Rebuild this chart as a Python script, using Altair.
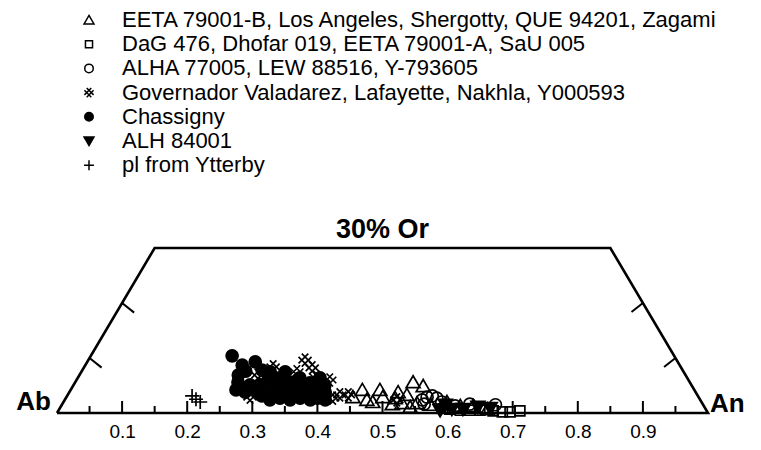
import altair as alt
import pandas as pd

# ---------------- data ----------------
groups = [
    "EETA 79001-B, Los Angeles, Shergotty, QUE 94201, Zagami",
    "DaG 476, Dhofar 019, EETA 79001-A, SaU 005",
    "ALHA 77005, LEW 88516, Y-793605",
    "Governador Valadarez, Lafayette, Nakhla, Y000593",
    "Chassigny",
    "ALH 84001",
    "pl from Ytterby",
]

# An and Or mole fractions for each group
tri_an = [0.440, 0.448, 0.464, 0.475, 0.475, 0.486, 0.507, 0.505, 0.521, 0.519,
          0.538, 0.544, 0.521, 0.566, 0.589, 0.613, 0.633, 0.658, 0.506, 0.537]
tri_or = [0.029, 0.042, 0.024, 0.020, 0.042, 0.029, 0.016, 0.038, 0.018, 0.056,
          0.049, 0.018, 0.033, 0.015, 0.020, 0.013, 0.013, 0.007, 0.027, 0.011]

sq_an = [0.600, 0.617, 0.632, 0.647, 0.668, 0.683, 0.695, 0.709]
sq_or = [0.007, 0.005, 0.005, 0.005, 0.004, 0.002, 0.002, 0.004]

circ_an = [0.549, 0.554, 0.561, 0.570, 0.581, 0.556, 0.605, 0.626, 0.666]
circ_or = [0.024, 0.029, 0.031, 0.027, 0.020, 0.016, 0.013, 0.016, 0.015]

hatch_an = [0.290, 0.333, 0.331, 0.366, 0.323, 0.274, 0.282, 0.392, 0.382, 0.418,
            0.431, 0.289, 0.375, 0.389, 0.510, 0.274, 0.351, 0.410]
hatch_or = [0.084, 0.096, 0.075, 0.065, 0.064, 0.045, 0.029, 0.033, 0.051, 0.033,
            0.033, 0.053, 0.027, 0.060, 0.024, 0.069, 0.082, 0.027]

chas_an = [0.217, 0.241, 0.258, 0.252, 0.276, 0.250, 0.254, 0.271, 0.294, 0.312,
           0.331, 0.343, 0.363, 0.375, 0.299, 0.329, 0.360, 0.387, 0.330, 0.361,
           0.393, 0.290, 0.310, 0.341, 0.372, 0.286, 0.322, 0.355, 0.386, 0.270,
           0.290, 0.308, 0.347, 0.315, 0.346, 0.377, 0.400, 0.313, 0.244]
chas_or = [0.104, 0.087, 0.093, 0.076, 0.078, 0.056, 0.042, 0.051, 0.060, 0.045,
           0.038, 0.045, 0.036, 0.042, 0.031, 0.027, 0.027, 0.027, 0.056, 0.055,
           0.038, 0.075, 0.064, 0.064, 0.064, 0.051, 0.051, 0.051, 0.051, 0.038,
           0.038, 0.038, 0.038, 0.024, 0.024, 0.024, 0.024, 0.075, 0.069]

alh_an = [0.586, 0.589, 0.603, 0.620, 0.641, 0.661]
alh_or = [0.005, 0.015, 0.007, 0.007, 0.011, 0.009]

ytt_an = [0.192, 0.201, 0.210]
ytt_or = [0.031, 0.025, 0.020]

# axis / frame values
tick_labels = [0.1, 0.2, 0.3, 0.4, 0.5, 0.6, 0.7, 0.8, 0.9]
minor_ticks = [0.05, 0.15, 0.25, 0.35, 0.45, 0.55, 0.65, 0.75, 0.85, 0.95]
side_tick_or = [0.1, 0.2]
frame_an = [0.0, 0.0, 0.7, 1.0, 0.0]
frame_or = [0.0, 0.3, 0.3, 0.0, 0.0]
corner_names = ["Ab", "An", "30% Or"]
corner_an = [0.0, 1.0, 0.35]
corner_or = [0.0, 0.0, 0.3]

# ---------------- tables ----------------
series = [
    (groups[4], chas_an, chas_or),
    (groups[3], hatch_an, hatch_or),
    (groups[0], tri_an, tri_or),
    (groups[2], circ_an, circ_or),
    (groups[1], sq_an, sq_or),
    (groups[5], alh_an, alh_or),
    (groups[6], ytt_an, ytt_or),
]
rows = []
k = 0
for g, an, orr in series:
    for a, o in zip(an, orr):
        rows.append({"group": g, "An": a, "Or": o, "k": k})
        k += 1
pts = pd.DataFrame(rows)

frame = pd.DataFrame({"An": frame_an, "Or": frame_or, "i": range(len(frame_an))})
major = pd.DataFrame({"t": tick_labels})
minor = pd.DataFrame({"t": minor_ticks})
side = pd.DataFrame({"Or": side_tick_or})
corners = pd.DataFrame({"name": corner_names, "An": corner_an, "Or": corner_or})

FONT = "Liberation Sans"
tri_up = "M0,-1.3L1.4,1.1L-1.4,1.1Z"
square = "M-1,-1L1,-1L1,1L-1,1Z"
ring = "M-1.2,0A1.2,1.2,0,1,0,1.2,0A1.2,1.2,0,1,0,-1.2,0Z"
hatch = ("M-1.3,-0.65L0.65,1.3M-0.65,-1.3L1.3,0.65"
         "M-1.3,0.65L0.65,-1.3M-0.65,1.3L1.3,-0.65")
tri_down = "M0,1.3L1.4,-1.1L-1.4,-1.1Z"
plus = "M-1.4,0L1.4,0M0,-1.4L0,1.4"
shape_range = [tri_up, square, ring, hatch, ring, tri_down, plus]
fill_range = ["transparent", "transparent", "transparent", "transparent",
              "black", "black", "transparent"]

xscale = alt.Scale(domain=[0, 1], nice=False, zero=False)
yscale = alt.Scale(domain=[0, 0.3], nice=False, zero=False)
xaxis = alt.Axis(values=tick_labels, format=".1f", title=None, grid=False,
                 domain=False, ticks=False, labelFont=FONT, labelFontSize=19,
                 labelColor="black", labelPadding=9, labelOverlap=False,
                 labelFlush=False)

legend = alt.Legend(title=None, orient="none", legendX=21, legendY=-239,
                    labelFont=FONT, labelFontSize=22, labelColor="black",
                    labelLimit=0, symbolSize=50, symbolStrokeWidth=1.5,
                    rowPadding=2.2, labelOffset=22, padding=0, symbolOpacity=1)

proj = "datum.An + datum.Or / 2"

X = alt.X("px:Q", scale=xscale, axis=xaxis)
Y = alt.Y("Or:Q", scale=yscale, axis=None)

frame_layer = alt.Chart(frame).transform_calculate(px=proj).mark_line(
    color="black", strokeWidth=2.6, strokeJoin="miter"
).encode(x=X, y=Y, order="i:Q")

major_layer = alt.Chart(major).mark_rule(color="black", strokeWidth=2).encode(
    x=alt.X("t:Q", scale=xscale, axis=xaxis), y=alt.value(165), y2=alt.value(153)
)
minor_layer = alt.Chart(minor).mark_rule(color="black", strokeWidth=2).encode(
    x=alt.X("t:Q", scale=xscale, axis=xaxis), y=alt.value(165), y2=alt.value(158)
)

left_ticks = alt.Chart(side).transform_calculate(
    px="datum.Or / 2", px2="datum.Or / 2 + 0.0185", Or2="datum.Or - 0.0175"
).mark_rule(color="black", strokeWidth=2).encode(
    x=X, y=Y, x2="px2:Q", y2="Or2:Q"
)
right_ticks = alt.Chart(side).transform_calculate(
    px="1 - datum.Or / 2", px2="1 - datum.Or / 2 - 0.0175", Or2="datum.Or - 0.0165"
).mark_rule(color="black", strokeWidth=2).encode(
    x=X, y=Y, x2="px2:Q", y2="Or2:Q"
)

points = alt.Chart(pts).transform_calculate(px=proj).mark_point(
    size=100, strokeWidth=1.7, opacity=1
).encode(
    x=X, y=Y,
    shape=alt.Shape("group:N", scale=alt.Scale(domain=groups, range=shape_range), legend=legend),
    fill=alt.Fill("group:N", scale=alt.Scale(domain=groups, range=fill_range), legend=legend),
    stroke=alt.Stroke("group:N", scale=alt.Scale(domain=groups, range=["black"] * 7), legend=legend),
    order=alt.Order("k:Q"),
)

def corner(name, **kw):
    return alt.Chart(corners).transform_filter(
        alt.datum.name == name
    ).transform_calculate(px=proj).mark_text(
        font=FONT, fontWeight="bold", color="black", **kw
    ).encode(x=X, y=Y, text="name:N")

ab = corner("Ab", align="right", baseline="alphabetic", dx=-6, dy=-3, fontSize=26)
an = corner("An", align="left", baseline="alphabetic", dx=2, dy=-1, fontSize=26)
orr = corner("30% Or", align="center", baseline="alphabetic", dy=-10, fontSize=27)

chart = alt.layer(
    frame_layer, major_layer, minor_layer, left_ticks, right_ticks, points, ab, an, orr
).properties(
    width=651, height=165,
    autosize=alt.AutoSizeParams(type="none"),
    padding={"left": 49, "top": 240, "right": 45, "bottom": 29},
).configure_view(stroke=None, strokeWidth=0)

chart.save("out.html", embed_options={"renderer": "svg", "actions": False})
